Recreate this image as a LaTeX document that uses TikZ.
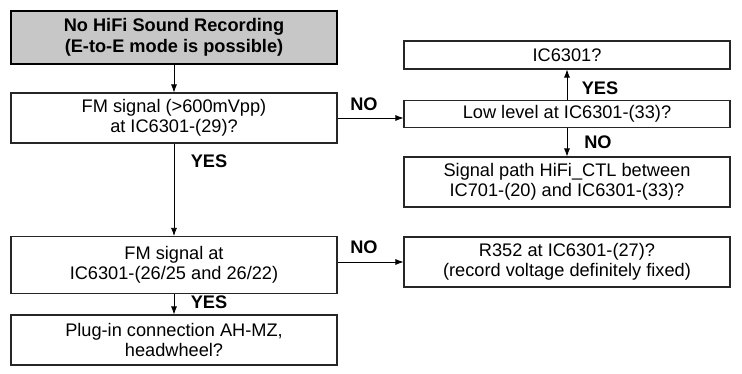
\documentclass[tikz,border=0pt]{standalone}
\usepackage{fontspec}
\setmainfont{Liberation Sans}
\usetikzlibrary{arrows.meta,positioning,calc}

\begin{document}
\begin{tikzpicture}[
    x=1pt, y=-1pt,
    every node/.style={font=\fontsize{18.2}{20.5}\selectfont},
    box/.style={rectangle, draw=black!85, line width=1.1pt, align=center, inner sep=2pt, fill=#1, minimum width=326pt},
    box/.default=white,
    startbox/.style={box=black!22, draw=black, line width=1.8pt, font=\fontsize{18.2}{21}\selectfont\bfseries},
    answer/.style={font=\fontsize{18.2}{20}\selectfont\bfseries, inner sep=0pt},
    arr/.style={-{Latex[length=8pt, width=6pt]}, line width=0.8pt},
]
\useasboundingbox (0,0) rectangle (742,374);

% --- Left column (x = 174) ------------------------------------------
\node[startbox, minimum height=53pt] (start)  at (174, 37.5) {No HiFi Sound Recording\\(E-to-E mode is possible)};
\node[box, minimum height=50pt]      (fmsig)  at (174, 118)  {FM signal (>600mVpp)\\at IC6301-(29)?};
\node[box, minimum height=57pt]      (fmout)  at (174, 265)  {FM signal at\\IC6301-(26/25 and 26/22)};
\node[box, minimum height=50pt]      (plugin) at (174, 340)  {Plug-in connection AH-MZ,\\headwheel?};

% --- Right column (x = 567) -----------------------------------------
\node[box, minimum height=28pt] (icchk)  at (567, 55)    {IC6301?};
\node[box, minimum height=27pt] (lowlvl) at (567, 114)   {Low level at IC6301-(33)?};
\node[box, minimum height=50pt] (sigpath)at (567, 182)   {Signal path HiFi\_CTL between\\IC701-(20) and IC6301-(33)?};
\node[box, minimum height=50pt] (rrec)   at (567, 262)   {R352 at IC6301-(27)?\\(record voltage definitely fixed)};

% --- Main flow --------------------------------------------------------
\draw[arr] (start)  -- (fmsig);
\draw[arr] (fmsig)  -- (fmout);
\draw[arr] (fmout)  -- (plugin);
\draw[arr] (fmsig.east) -- (fmsig.east -| lowlvl.west);
\draw[arr] (fmout.east |- rrec.west) -- (rrec.west);
\draw[arr] (lowlvl) -- (icchk);
\draw[arr] (lowlvl) -- (sigpath);

% --- Answers ------------------------------------------------------------
\node[answer] (yes1) at (209, 161) {YES};
\node[answer] (yes2) at (209, 302) {YES};
\node[answer] (no1)  at (364, 104) {NO};
\node[answer] (no2)  at (364, 247) {NO};
\node[answer] (yes3) at (600, 88)  {YES};
\node[answer] (no3)  at (598, 142) {NO};
\end{tikzpicture}
\end{document}
